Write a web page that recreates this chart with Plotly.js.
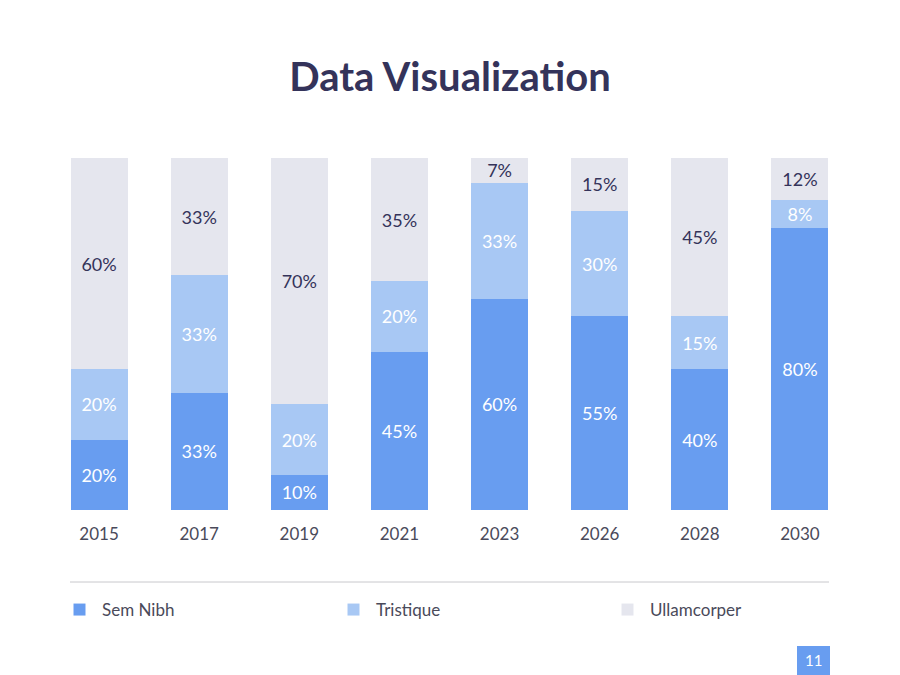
<!DOCTYPE html>
<html>
<head>
<meta charset="utf-8">
<script src="https://cdn.plot.ly/plotly-3.0.1.min.js"></script>
<style>
  html, body { margin: 0; padding: 0; background: #ffffff; }
  #chart { width: 900px; height: 675px; }
</style>
</head>
<body>
<div id="chart"></div>
<script>
// Years shown along the axis
const years = ['2015', '2017', '2019', '2021', '2023', '2026', '2028', '2030'];

// Share of each series per year (percent)
const semNibh     = [20, 33.33, 10, 45, 60, 55, 40, 80];
const tristique   = [20, 33.33, 20, 20, 33, 30, 15, 8];
const ullamcorper = [60, 33.33, 70, 35, 7, 15, 45, 12];

const seriesNames = ['Sem Nibh', 'Tristique', 'Ullamcorper'];
const pageNumber = '11';

const fontFamily = 'Lato, "Open Sans", sans-serif';
const colors = ['#689df0', '#a8c8f4', '#e5e6ee'];
const textColors = ['#ffffff', '#ffffff', '#34335a'];

function segment(values, i) {
  return {
    type: 'bar',
    name: seriesNames[i],
    x: years,
    y: values,
    marker: { color: colors[i], line: { width: 0 } },
    text: values.map(v => Math.round(v) + '%'),
    textposition: 'inside',
    insidetextanchor: 'middle',
    textangle: 0,
    constraintext: 'none',
    textfont: { family: fontFamily, size: 18, color: textColors[i] },
    hoverinfo: 'skip'
  };
}

const data = [segment(semNibh, 0), segment(tristique, 1), segment(ullamcorper, 2)];

// Plot area spans x 49..900 px so the one-row legend has room;
// the bars themselves occupy x 49..850 through the axis domain.
const W = 900, H = 675;
const plotLeft = 49, plotW = W - plotLeft, barsRight = 850;
const plotTop = 158, plotBottom = 510;
const ph = plotBottom - plotTop;
const py = p => (plotBottom - p) / ph;   // pixel row -> paper y
const pxp = p => (p - plotLeft) / plotW; // pixel column -> paper x

const layout = {
  width: W,
  height: H,
  margin: { l: plotLeft, r: 0, t: plotTop, b: H - plotBottom, pad: 0 },
  paper_bgcolor: '#ffffff',
  plot_bgcolor: '#ffffff',
  barmode: 'stack',
  bargap: 0.43,
  showlegend: true,
  font: { family: fontFamily, color: '#34335a' },
  title: {
    text: '<b>Data Visualization</b>',
    font: { family: fontFamily, size: 40, color: '#34335a' },
    x: 0.5,
    xanchor: 'center',
    y: 1 - 77 / H,
    yanchor: 'middle'
  },
  xaxis: {
    type: 'category',
    domain: [0, pxp(barsRight)],
    showgrid: false,
    zeroline: false,
    showline: false,
    ticks: 'outside',
    ticklen: 9,
    tickcolor: 'rgba(0,0,0,0)',
    tickfont: { family: fontFamily, size: 17, color: '#4a4a5a' },
    fixedrange: true
  },
  yaxis: {
    range: [0, 100],
    visible: false,
    fixedrange: true
  },
  legend: {
    orientation: 'h',
    x: pxp(57),
    xanchor: 'left',
    y: py(610),
    yanchor: 'middle',
    itemwidth: 35,
    entrywidth: 224,
    entrywidthmode: 'pixels',
    traceorder: 'normal',
    font: { family: fontFamily, size: 17, color: '#4a4a5a' },
    bgcolor: 'rgba(0,0,0,0)'
  },
  shapes: [
    {
      type: 'line', xref: 'paper', yref: 'paper',
      x0: pxp(70), x1: pxp(829),
      y0: py(582), y1: py(582),
      line: { color: '#c8c8cc', width: 1 }
    },
    {
      type: 'rect', xref: 'paper', yref: 'paper',
      x0: pxp(797), x1: pxp(830),
      y0: py(675), y1: py(646),
      fillcolor: '#689df0', line: { width: 0 }
    }
  ],
  annotations: [
    {
      text: pageNumber, xref: 'paper', yref: 'paper',
      x: pxp(813.5), y: py(660),
      xanchor: 'center', yanchor: 'middle', showarrow: false,
      font: { family: fontFamily, size: 15, color: '#ffffff' }
    }
  ]
};

Plotly.newPlot('chart', data, layout, { displayModeBar: false, staticPlot: true });
</script>
</body>
</html>
